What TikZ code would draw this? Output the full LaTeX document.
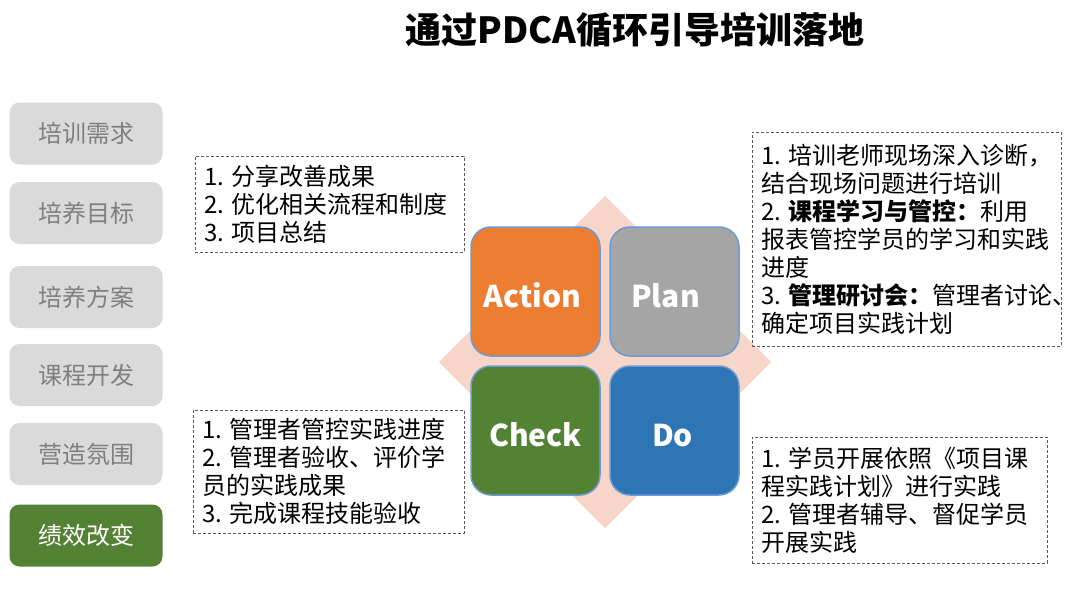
\documentclass[tikz,border=0pt]{standalone}
\usepackage{fontspec}
\setmainfont{Noto Sans CJK SC}
\definecolor{actionc}{HTML}{ED7D31}
\definecolor{planc}{HTML}{A5A5A5}
\definecolor{checkc}{HTML}{548235}
\definecolor{doc}{HTML}{2E75B6}
\definecolor{diam}{HTML}{F8D5C9}
\definecolor{lboxc}{HTML}{DADADA}
\definecolor{ltext}{HTML}{7F7F7F}
\definecolor{sqborder}{HTML}{6B9BD2}
\definecolor{dashc}{HTML}{595959}
\begin{document}
\begin{tikzpicture}[x=1pt,y=-1pt,
  leftbox/.style={rounded corners=10pt, fill=lboxc, minimum width=153pt, minimum height=62pt, text=ltext, font=\fontsize{24}{28}\selectfont, inner sep=0pt},
  sq/.style={rounded corners=20pt, draw=sqborder, line width=1.5pt, minimum size=129pt, text=white, font=\fontsize{30}{34}\selectfont\bfseries, inner sep=0pt, text height=31pt, text depth=0pt},
  tbox/.style={draw=dashc, densely dashed, line width=0.7pt, align=left, inner xsep=9pt, inner ysep=4pt, font=\fontsize{24}{28}\selectfont},
]
\useasboundingbox (0,0) rectangle (1080,608);
\fill[white] (0,0) rectangle (1080,608);

\node[font=\fontsize{36}{40}\selectfont\bfseries] (title) at (635,30) {通过PDCA循环引导培训落地};

\node[leftbox] (l1) at (86,133.5) {培训需求};
\node[leftbox] (l2) at (86,213) {培养目标};
\node[leftbox] (l3) at (86,297) {培养方案};
\node[leftbox] (l4) at (86,375) {课程开发};
\node[leftbox] (l5) at (86,454) {营造氛围};
\node[leftbox, fill=checkc, text=white] (l6) at (86,535.5) {绩效改变};

\fill[diam] (605,196) -- (771,362) -- (605,528) -- (439,362) -- cycle;

\node[sq, fill=actionc] (action) at (535.5,291.5) {\hspace*{-6pt}Action};
\node[sq, fill=planc] (plan) at (674.5,291.5) {\hspace*{-18pt}Plan};
\node[sq, fill=checkc] (check) at (535.5,430.5) {Check};
\node[sq, fill=doc] (do) at (674.5,430.5) {\hspace*{-4pt}Do};

\node[tbox, minimum width=269pt, minimum height=96pt, text width=251pt] (tl) at (329.5,204)
 {1.~分享改善成果\\2.~优化相关流程和制度\\3.~项目总结};
\node[tbox, minimum width=271pt, minimum height=123pt, text width=253pt] (bl) at (328.5,471.5)
 {1.~管理者管控实践进度\\2.~管理者验收、评价学\\员的实践成果\\3.~完成课程技能验收};
\node[tbox, minimum width=309pt, minimum height=214pt, text width=291pt] (tr) at (906.5,239)
 {1.~培训老师现场深入诊断，\\结合现场问题进行培训\\2.~\textbf{课程学习与管控：}利用\\报表管控学员的学习和实践\\进度\\3.~\textbf{管理研讨会：}管理者讨论、\\确定项目实践计划};
\node[tbox, minimum width=295pt, minimum height=126pt, text width=277pt] (br) at (899.5,500)
 {1.~学员开展依照《项目课\\程实践计划》进行实践\\2.~管理者辅导、督促学员\\开展实践};
\end{tikzpicture}
\end{document}
